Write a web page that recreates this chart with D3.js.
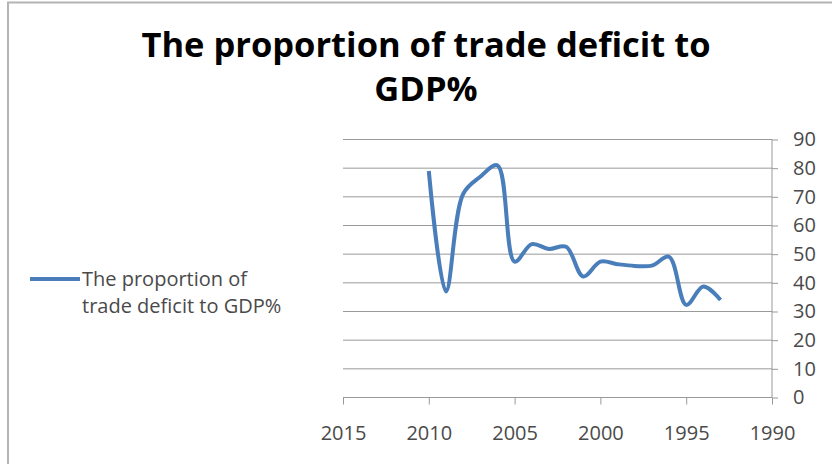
<!DOCTYPE html>
<html>
<head>
<meta charset="utf-8">
<script src="https://cdn.jsdelivr.net/npm/d3@7"></script>
<style>
body { margin: 0; background: #fff; }
svg { display: block; font-family: "Open Sans", sans-serif; }
</style>
</head>
<body>
<svg width="832" height="464"></svg>
<script>
const years = [2010, 2009, 2008, 2007, 2006, 2005, 2004, 2003, 2002, 2001, 2000, 1999, 1998, 1997, 1996, 1995, 1994, 1993];
const values = [79, 37, 71, 77, 81, 47.4, 53.5, 51.8, 52.6, 42.2, 47.4, 46.5, 45.9, 46, 49.1, 32.3, 38.7, 34];
const xTicks = [2015, 2010, 2005, 2000, 1995, 1990];
const yTicks = [0, 10, 20, 30, 40, 50, 60, 70, 80, 90];
const seriesName = "The proportion of trade deficit to GDP%";

const svg = d3.select("svg");

// 外枠
svg.append("path")
    .attr("d", "M8,464 V2.5 H832")
    .attr("stroke", "#b4b4b4")
    .attr("stroke-width", 2)
    .attr("fill", "none");

// グラフの領域
const plot = { left: 343, right: 772, top: 139.5, bottom: 397.5 };

const xScale = d3.scaleLinear()
    .domain([2015, 1990])
    .range([plot.left, plot.right]);
const yScale = d3.scaleLinear()
    .domain([0, 90])
    .range([plot.bottom, plot.top]);

// タイトル
const title = svg.append("text")
    .attr("text-anchor", "middle")
    .attr("font-weight", "bold")
    .attr("font-size", 34.5)
    .attr("fill", "#000");
title.append("tspan").attr("x", 426).attr("y", 57).text("The proportion of trade deficit to");
title.append("tspan").attr("x", 426).attr("y", 101).text("GDP%");

// 目盛線
svg.append("g")
    .selectAll("line")
    .data(yTicks.filter(d => d > 0))
    .join("line")
    .attr("x1", plot.left)
    .attr("x2", plot.right)
    .attr("y1", d => yScale(d))
    .attr("y2", d => yScale(d))
    .attr("stroke", "#999")
    .attr("stroke-width", 1);

// y軸 (右側)
const yAxis = svg.append("g")
    .attr("transform", `translate(${plot.right},0)`)
    .call(d3.axisRight(yScale).tickValues(yTicks).tickSize(6).tickPadding(15).tickFormat(d3.format("d")));
// x軸
const xAxis = svg.append("g")
    .attr("transform", `translate(0,${plot.bottom})`)
    .call(d3.axisBottom(xScale).tickValues(xTicks).tickSize(7).tickPadding(21).tickFormat(d3.format("d")));

[yAxis, xAxis].forEach(ax => {
    ax.select(".domain").attr("stroke", "#999");
    ax.selectAll(".tick line").attr("stroke", "#999");
    ax.selectAll(".tick text")
        .attr("fill", "#4a4a4a")
        .attr("font-size", 20)
        .attr("font-family", "Open Sans, sans-serif");
});
yAxis.select(".domain").attr("d", `M0,${plot.top}V${plot.bottom}`);
xAxis.select(".domain").attr("d", `M${plot.left},0H${plot.right}`);

// 折れ線
const pts = years.map((y, i) => [y, values[i]]);
svg.append("path")
    .datum(pts)
    .attr("d", d3.line()
        .x(d => xScale(d[0]))
        .y(d => yScale(d[1]))
        .curve(d3.curveCatmullRom.alpha(0.5))
    )
    .attr("stroke", "#4a7ebb")
    .attr("stroke-width", 4)
    .attr("stroke-linejoin", "round")
    .attr("fill", "none");

// 凡例
svg.append("line")
    .attr("x1", 30).attr("x2", 80)
    .attr("y1", 279).attr("y2", 279)
    .attr("stroke", "#4a7ebb")
    .attr("stroke-width", 4);
const leg = svg.append("text")
    .attr("font-size", 20)
    .attr("fill", "#4a4a4a");
leg.append("tspan").attr("x", 82).attr("y", 286).text("The proportion of");
leg.append("tspan").attr("x", 82).attr("y", 313).text("trade deficit to GDP%");
</script>
</body>
</html>
